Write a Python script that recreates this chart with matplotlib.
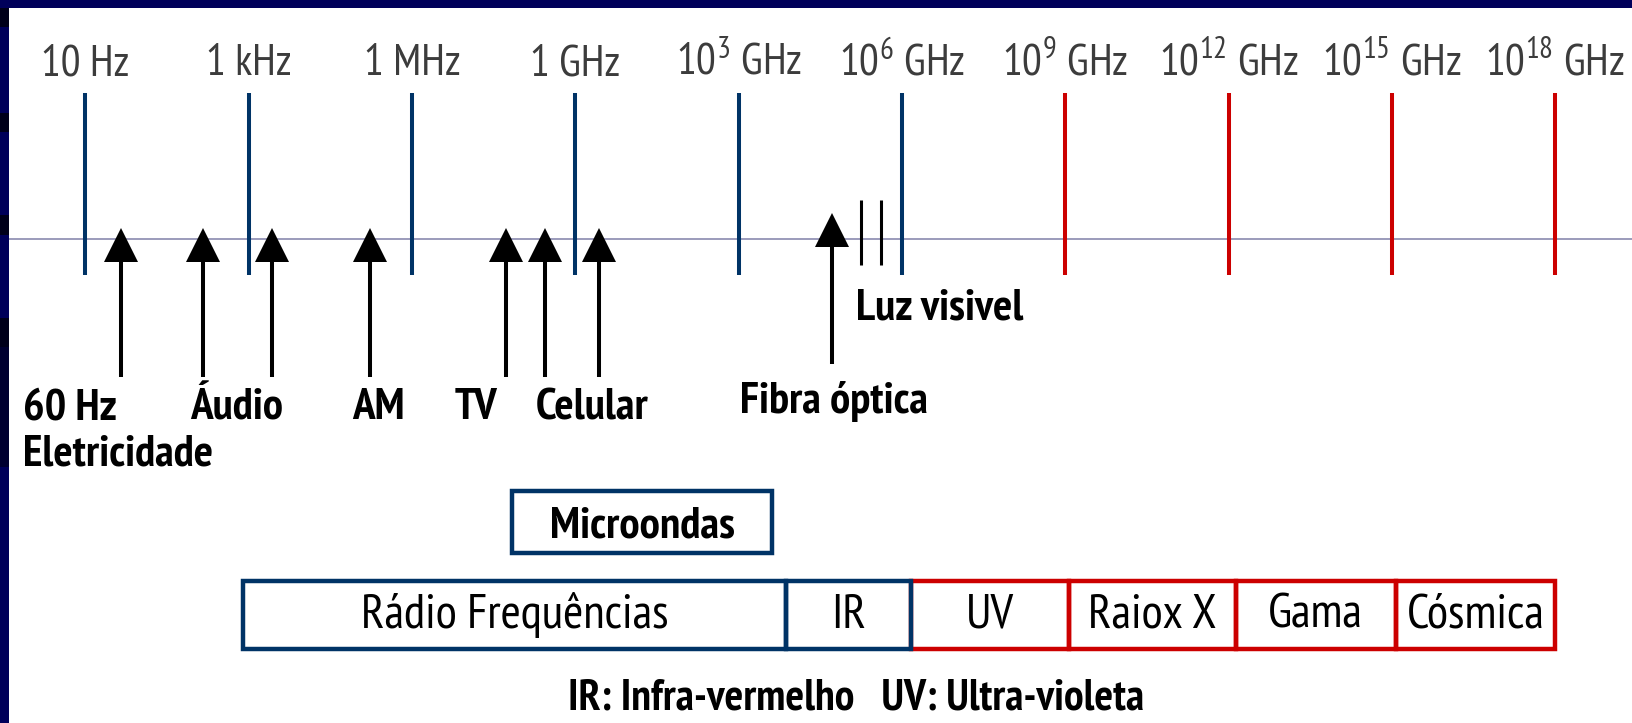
import matplotlib
matplotlib.use("Agg")
import matplotlib.pyplot as plt
from matplotlib import font_manager
from matplotlib.patches import Rectangle

# decade marks along the spectrum (equally spaced, one per position)
tick_labels = ["10 Hz", "1 kHz", "1 MHz", "1 GHz",
               r"10$^{\mathregular{3}}$ GHz", r"10$^{\mathregular{6}}$ GHz",
               r"10$^{\mathregular{9}}$ GHz", r"10$^{\mathregular{12}}$ GHz",
               r"10$^{\mathregular{15}}$ GHz", r"10$^{\mathregular{18}}$ GHz"]
tick_pos = [0, 1, 2, 3, 4, 5, 6, 7, 8, 9]
n_blue = 6

# applications (arrow positions in decade-mark units)
arrow_pos = [0.218, 0.718, 1.145, 1.743, 2.576, 2.817, 3.145]
arrow_labels = ["60 Hz", "Áudio", "AM", "TV", "Celular"]
arrow_label_x = [-0.382, 0.638, 1.633, 2.263, 2.760]
fibra_pos = 4.570
visible_pos = [4.748, 4.870]

# bands
band_names = ["Rádio Frequências", "IR", "UV", "Raiox X", "Gama", "Cósmica"]
band_edges = [0.963, 4.293, 5.056, 6.021, 7.046, 8.023, 9.0]
band_colors = ["#003366", "#003366", "#cc0000", "#cc0000", "#cc0000", "#cc0000"]
micro_span = (2.614, 4.203)

BLUE = "#003366"
RED = "#cc0000"
NAVY = "#00005a"

FONT = "Liberation Sans"
for cand in ["PT Sans Narrow", "Liberation Sans Narrow", "Archivo Narrow", "Roboto Condensed"]:
    try:
        font_manager.findfont(cand, fallback_to_default=False)
        FONT = cand
        break
    except ValueError:
        pass
plt.rcParams["font.family"] = [FONT, "DejaVu Sans"]
plt.rcParams["mathtext.fontset"] = "custom"
plt.rcParams["mathtext.rm"] = FONT

W, H = 1633, 723
fig = plt.figure(figsize=(W / 100, H / 100), dpi=100)
ax = fig.add_axes([0, 0, 1, 1])
x0, step = 85.4, 163.3
ax.set_xlim(-x0 / step, (W - x0) / step)
ax.set_ylim(H, 0)
ax.axis("off")
renderer = fig.canvas.get_renderer()


def fit_size(sample, width_px, weight="normal"):
    t = fig.text(0, 0, sample, fontsize=30, fontweight=weight)
    w = t.get_window_extent(renderer).width
    t.remove()
    return 30 * width_px / w


fs_top = fit_size("1 GHz", 90)
fs_lab = fit_size("Fibra óptica", 188, "bold")
fs_box = fit_size("Cósmica", 138)
fs_mic = fit_size("Microondas", 185, "bold")
fs_foot = fit_size("IR: Infra-vermelho   UV: Ultra-violeta", 574, "bold")

# baseline
ax.plot([(9 - x0) / step, (W - x0) / step], [239, 239], color="#8080a8", lw=1.1)

# decade lines and labels
for i, (p, lab) in enumerate(zip(tick_pos, tick_labels)):
    c = BLUE if i < n_blue else RED
    ax.plot([p, p], [93, 275], color=c, lw=2.9, solid_capstyle="butt")
    ax.text(p, 75, lab, ha="center", va="baseline", fontsize=fs_top, color="#3c3c3c")


# arrows
def up_arrow(x, tip, tail):
    ax.plot([x, x], [tip + 20, tail], color="black", lw=2.9, solid_capstyle="butt")
    ax.plot([x], [tip + 16.5], marker="^", ms=25, color="black", mew=0)


for p in arrow_pos:
    up_arrow(p, 228, 377)
up_arrow(fibra_pos, 213, 364)

for lab, lx in zip(arrow_labels, arrow_label_x):
    ax.text(lx, 419, lab, ha="left", va="baseline", fontsize=fs_lab, fontweight="bold")
ax.text(arrow_label_x[0], 466, "Eletricidade", ha="left", va="baseline",
        fontsize=fs_lab, fontweight="bold")
ax.text(4.006, 413, "Fibra óptica", ha="left", va="baseline", fontsize=fs_lab, fontweight="bold")

# visible light
for p in visible_pos:
    ax.plot([p, p], [200, 265], color="black", lw=2.2, solid_capstyle="butt")
ax.text(4.719, 320, "Luz visivel", ha="left", va="baseline", fontsize=fs_lab, fontweight="bold")

# microwave box
lw_box = 3.2
ax.add_patch(Rectangle((micro_span[0], 491), micro_span[1] - micro_span[0], 61.5,
                       fill=False, ec=BLUE, lw=lw_box))
ax.text(sum(micro_span) / 2, 537, "Microondas", ha="center", va="baseline",
        fontsize=fs_mic, fontweight="bold")

# band boxes (red first so the blue edge stays on top)
order = [i for i in range(len(band_names)) if band_colors[i] == RED] + \
        [i for i in range(len(band_names)) if band_colors[i] != RED]
for i in order:
    a, b = band_edges[i], band_edges[i + 1]
    ax.add_patch(Rectangle((a, 580.5), b - a, 68, fill=False, ec=band_colors[i],
                           lw=lw_box, joinstyle="miter"))
for i, name in enumerate(band_names):
    a, b = band_edges[i], band_edges[i + 1]
    ax.text((a + b) / 2, 628, name, ha="center", va="baseline", fontsize=fs_box)

ax.text((855.6 - x0) / step, 710, "IR: Infra-vermelho   UV: Ultra-violeta",
        ha="center", va="baseline", fontsize=fs_foot, fontweight="bold")


# slide frame: top and left strips
def frame_rect(x, y, w, h, color):
    fig.add_artist(Rectangle((x / W, 1 - (y + h) / H), w / W, h / H,
                             transform=fig.transFigure, color=color, lw=0))


frame_rect(0, 0, W, 8, NAVY)
frame_rect(0, 0, 9, H, NAVY)
for y0, y1 in [(8, 27), (113, 132), (215, 235), (318, 347)]:
    frame_rect(0, y0, 9, y1 - y0, "#00001a")
frame_rect(0, 347, 9, 120, "#000030")

fig.savefig("out.png", dpi=100)
